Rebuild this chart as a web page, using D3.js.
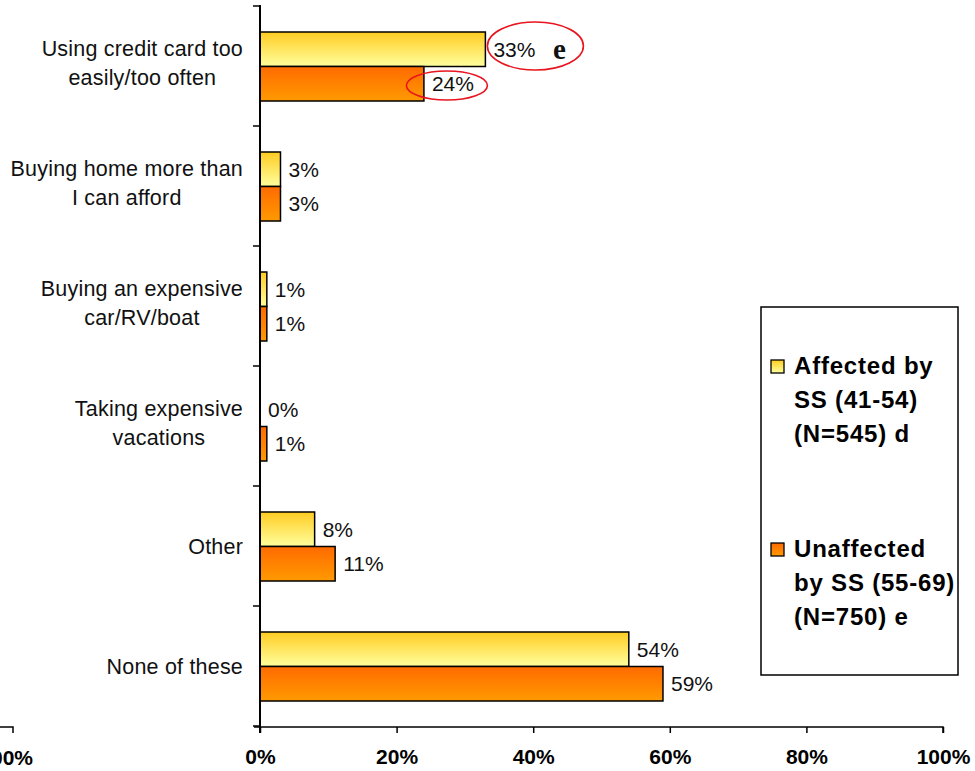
<!DOCTYPE html>
<html>
<head>
<meta charset="utf-8">
<script src="https://cdn.jsdelivr.net/npm/d3@7"></script>
<style>
  html, body { margin: 0; padding: 0; background: #fff; }
  svg { display: block; font-family: "Liberation Sans", Arial, sans-serif; }
</style>
</head>
<body>
<svg id="chart" width="975" height="771"></svg>
<script>
// Reasons for financial trouble, by group (percent of respondents)
const categories = [
  "Using credit card too\neasily/too often",
  "Buying home more than\nI can afford",
  "Buying an expensive\ncar/RV/boat",
  "Taking expensive\nvacations",
  "Other",
  "None of these"
];
const affected   = [33, 3, 1, 0, 8, 54];
const unaffected = [24, 3, 1, 1, 11, 59];
const xTicks = [0, 20, 40, 60, 80, 100];
const seriesKeys = ["affected", "unaffected"];
const legendLines = [
  ["Affected by", "SS (41-54)", "(N=545) d"],
  ["Unaffected", "by SS (55-69)", "(N=750) e"]
];

const svg = d3.select("#chart");

// gradients for the two series
const defs = svg.append("defs");
function grad(id, top, bottom) {
  const g = defs.append("linearGradient").attr("id", id)
    .attr("x1", 0).attr("y1", 0).attr("x2", 0).attr("y2", 1);
  g.append("stop").attr("offset", "0%").attr("stop-color", top);
  g.append("stop").attr("offset", "100%").attr("stop-color", bottom);
}
grad("gAffected", "#FFCC22", "#FFFF9E");
grad("gUnaffected", "#FF6A00", "#FF9A00");
const fills = { affected: "url(#gAffected)", unaffected: "url(#gUnaffected)" };

const x = d3.scaleLinear().domain([0, 100]).range([260, 943]);
const y0 = d3.scaleBand().domain(categories).range([6, 726]);
const y1 = d3.scaleBand().domain(seriesKeys).range([26, 95]);

const rows = categories.map((c, i) => ({ cat: c, affected: affected[i], unaffected: unaffected[i] }));

// bars
const groups = svg.append("g").selectAll("g").data(rows).join("g")
  .attr("transform", d => `translate(0,${y0(d.cat)})`);

groups.selectAll("rect").data(d => seriesKeys.map(k => ({ k, v: d[k] })))
  .join("rect")
  .filter(d => d.v > 0)
  .attr("x", x(0))
  .attr("y", d => y1(d.k))
  .attr("width", d => x(d.v) - x(0))
  .attr("height", y1.bandwidth())
  .attr("fill", d => fills[d.k])
  .attr("stroke", "#000")
  .attr("stroke-width", 1.5);

groups.selectAll("text.val").data(d => seriesKeys.map(k => ({ k, v: d[k] })))
  .join("text")
  .attr("class", "val")
  .attr("x", d => x(d.v) + 8)
  .attr("y", d => y1(d.k) + y1.bandwidth() / 2 + 7.5)
  .attr("font-size", 21)
  .attr("fill", "#111")
  .text(d => d.v + "%");

// x axis
const xAxis = d3.axisBottom(x).tickValues(xTicks).tickFormat(d => d + "%").tickSize(6).tickPadding(16);
const gx = svg.append("g").attr("transform", "translate(0,727)").call(xAxis);
gx.select(".domain").attr("d", "M254,0H943V6").attr("stroke", "#000").attr("stroke-width", 1.5);
gx.selectAll(".tick line").attr("stroke", "#000").attr("stroke-width", 1.5);
gx.selectAll(".tick text").attr("font-size", 21).attr("font-weight", "bold").attr("fill", "#000")
  .attr("font-family", "'Liberation Sans', Arial, sans-serif");

// y axis with category separators
const sepY = categories.map(c => y0(c)).concat([y0.range()[1]]);
const gy = svg.append("g");
gy.append("line").attr("x1", 260).attr("x2", 260).attr("y1", 5).attr("y2", 733)
  .attr("stroke", "#000").attr("stroke-width", 2);
gy.selectAll("line.sep").data(sepY).join("line").attr("class", "sep")
  .attr("x1", 253).attr("x2", 260).attr("y1", d => d).attr("y2", d => d)
  .attr("stroke", "#000").attr("stroke-width", 1.5);

// category labels
const catLabels = svg.append("g").selectAll("text").data(categories).join("text")
  .attr("text-anchor", "end")
  .attr("font-size", 21.5)
  .attr("letter-spacing", 0.2)
  .attr("fill", "#111")
  .each(function (c) {
    const lines = c.split("\n");
    const mid = y0(c) + y0.bandwidth() / 2;
    const t = d3.select(this);
    lines.forEach((ln, i) => {
      const off = lines.length === 1 ? 7.5 : (i === 0 ? -10.5 : 19);
      t.append("tspan").attr("x", 243).attr("y", mid + off).text(ln);
    });
  });
// second lines are centred under the first one
catLabels.filter(function () { return this.childNodes.length === 2; })
  .each(function () {
    const spans = d3.select(this).selectAll("tspan").nodes();
    const w0 = spans[0].getComputedTextLength();
    const w1 = spans[1].getComputedTextLength();
    d3.select(spans[1]).attr("x", 243 - (w0 - w1) / 2);
  });

// neighbouring panel's axis end, clipped at the left edge
const gl = svg.append("g");
gl.append("path").attr("d", "M0,727H13V733").attr("fill", "none").attr("stroke", "#000").attr("stroke-width", 1.5);
gl.append("text").attr("x", 33).attr("y", 765).attr("text-anchor", "end")
  .attr("font-size", 21).attr("font-weight", "bold").attr("fill", "#000").text("100%");

// significance markings
const ann = svg.append("g").attr("fill", "none").attr("stroke", "#E8141E").attr("stroke-width", 1.6);
ann.append("ellipse").attr("cx", x(affected[0]) + 50).attr("cy", 46).attr("rx", 48).attr("ry", 24);
ann.append("ellipse").attr("cx", x(unaffected[0]) + 23).attr("cy", 85.5).attr("rx", 40.5).attr("ry", 14.5);
svg.append("text").attr("x", 553).attr("y", 59)
  .attr("font-family", "'Liberation Serif', 'Times New Roman', serif")
  .attr("font-weight", "bold").attr("font-size", 29).attr("fill", "#111").text("e");

// legend
const lg = svg.append("g");
lg.append("rect").attr("x", 761).attr("y", 307).attr("width", 197).attr("height", 368)
  .attr("fill", "#fff").attr("stroke", "#000").attr("stroke-width", 1.5);
const legendTop = [374, 557];
seriesKeys.forEach((k, i) => {
  lg.append("rect").attr("x", 771).attr("y", legendTop[i] - 14).attr("width", 13).attr("height", 13)
    .attr("fill", fills[k]).attr("stroke", "#000").attr("stroke-width", 1.3);
  legendLines[i].forEach((ln, j) => {
    lg.append("text").attr("x", 794).attr("y", legendTop[i] + j * 34)
      .attr("font-size", 24).attr("font-weight", "bold").attr("letter-spacing", 0.8)
      .attr("fill", "#000").text(ln);
  });
});
</script>
</body>
</html>
